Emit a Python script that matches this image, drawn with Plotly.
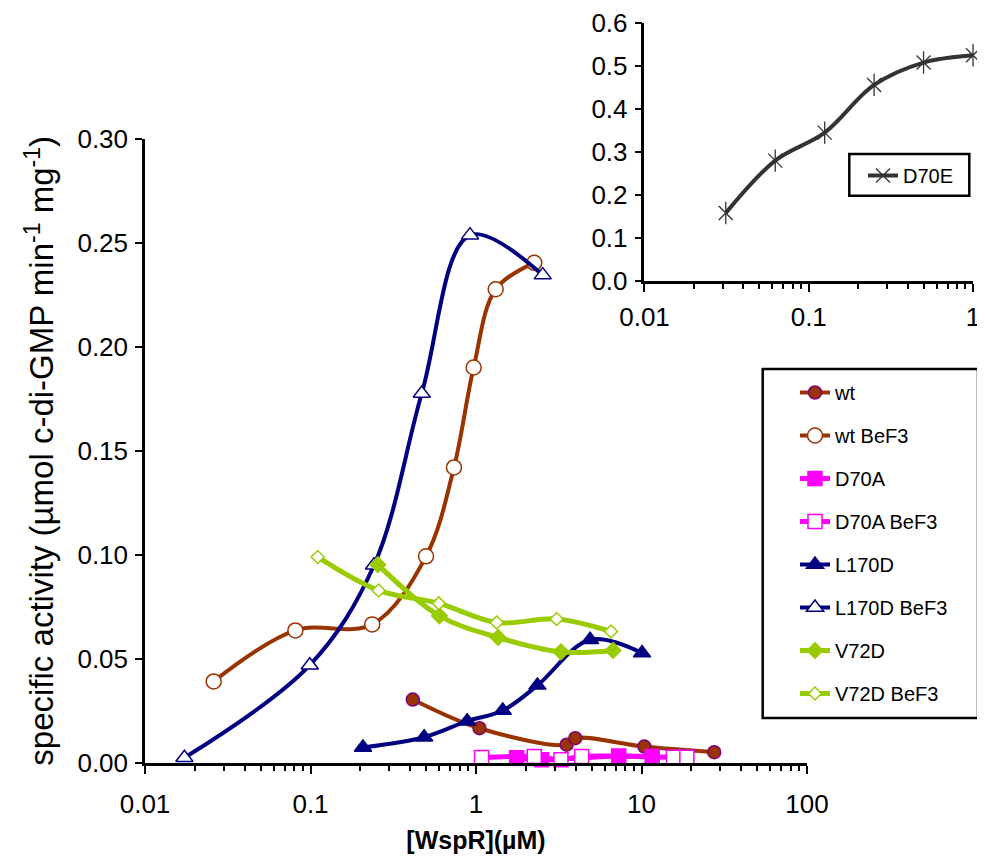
import plotly.graph_objects as go

# ---------------- data (main plot) ----------------
wt_x = [0.415, 1.05, 3.53, 3.98, 10.4, 27.5]
wt_y = [0.0305, 0.0167, 0.0088, 0.0119, 0.0079, 0.0052]

wtb_x = [0.026, 0.081, 0.236, 0.499, 0.736, 0.968, 1.315, 2.25]
wtb_y = [0.0392, 0.0637, 0.0666, 0.0993, 0.142, 0.190, 0.2276, 0.2403]

d70a_x = [1.76, 2.49, 7.28, 11.6]
d70a_y = [0.0025, 0.0016, 0.0034, 0.0031]

d70ab_x = [1.08, 2.25, 3.26, 4.35, 15.6, 18.8]
d70ab_y = [0.0026, 0.0031, 0.0016, 0.0031, 0.0028, 0.0028]

l170d_x = [0.2075, 0.486, 0.885, 1.45, 2.35, 4.89, 10.07]
l170d_y = [0.0075, 0.0124, 0.0201, 0.0252, 0.0373, 0.0592, 0.0528]

l170db_x = [0.0173, 0.099, 0.242, 0.47, 0.92, 2.53]
l170db_y = [0.0025, 0.047, 0.095, 0.1775, 0.2536, 0.2344]

v72d_x = [0.255, 0.601, 1.36, 3.26, 6.73]
v72d_y = [0.0953, 0.0707, 0.0603, 0.0534, 0.0541]

v72db_x = [0.1105, 0.258, 0.596, 1.334, 3.07, 6.54]
v72db_y = [0.099, 0.0829, 0.0767, 0.0675, 0.0692, 0.0632]

# ---------------- data (inset) ----------------
d70e_x = [0.03125, 0.0625, 0.125, 0.25, 0.5, 1.0]
d70e_y = [0.158, 0.280, 0.345, 0.456, 0.508, 0.525]

main_xticks = [0.01, 0.1, 1, 10, 100]
main_xticktext = ["0.01", "0.1", "1", "10", "100"]
main_yticks = [0.0, 0.05, 0.10, 0.15, 0.20, 0.25, 0.30]
main_yticktext = ["0.00", "0.05", "0.10", "0.15", "0.20", "0.25", "0.30"]
inset_xticks = [0.01, 0.1, 1]
inset_xticktext = ["0.01", "0.1", "1"]
inset_yticks = [0.0, 0.1, 0.2, 0.3, 0.4, 0.5, 0.6]
inset_yticktext = ["0.0", "0.1", "0.2", "0.3", "0.4", "0.5", "0.6"]

FONT = "Liberation Sans, Arial, sans-serif"
BROWN = "#993300"
MAGENTA = "#FF00FF"
NAVY = "#000080"
GREEN = "#99CC00"
PURPLE = "#800080"

fig = go.Figure()

def add(name, x, y, color, symbol, size, fill, edge, lw=4, ew=1.5):
    fig.add_trace(go.Scatter(
        x=x, y=y, name=name, mode="lines+markers",
        line=dict(color=color, width=lw, shape="spline", smoothing=1.0),
        marker=dict(symbol=symbol, size=size, color=fill,
                    line=dict(color=edge, width=ew)),
        legendgroup=name, cliponaxis=False,
        xaxis="x", yaxis="y", legend="legend"))

add("wt", wt_x, wt_y, BROWN, "circle", 13, BROWN, PURPLE)
add("wt BeF3", wtb_x, wtb_y, BROWN, "circle", 15, "white", BROWN)
add("D70A", d70a_x, d70a_y, MAGENTA, "square", 14, MAGENTA, MAGENTA, lw=5)
add("D70A BeF3", d70ab_x, d70ab_y, MAGENTA, "square", 14, "white", MAGENTA, lw=5)
add("L170D", l170d_x, l170d_y, NAVY, "triangle-up", 15, NAVY, NAVY)
add("L170D BeF3", l170db_x, l170db_y, NAVY, "triangle-up", 15, "white", NAVY)
add("V72D", v72d_x, v72d_y, GREEN, "diamond", 12, GREEN, GREEN, lw=5)
add("V72D BeF3", v72db_x, v72db_y, GREEN, "diamond", 10, "white", GREEN, lw=5)

# inset
fig.add_trace(go.Scatter(
    x=d70e_x, y=d70e_y, name="D70E", mode="lines+markers",
    line=dict(color="#333333", width=4, shape="spline", smoothing=1.0),
    marker=dict(symbol="x-thin-open", size=14, color="#333333",
                line=dict(color="#333333", width=1.3)),
    cliponaxis=False, xaxis="x2", yaxis="y2", legend="legend2"))
fig.add_trace(go.Scatter(
    x=d70e_x, y=d70e_y, name="D70E", mode="markers", showlegend=False,
    marker=dict(symbol="line-ns-open", size=16, color="#333333",
                line=dict(color="#333333", width=1.3)),
    cliponaxis=False, xaxis="x2", yaxis="y2"))

axis_common = dict(showline=True, linecolor="black", linewidth=2.5,
                   ticks="outside", tickcolor="black", tickwidth=2,
                   showgrid=False, zeroline=False, automargin=False,
                   ticklabeloverflow="allow",
                   tickfont=dict(family=FONT, size=26, color="black"))

# page has an 8 px body margin; plot area in screen pixels:
W, H, L, B = 830.0, 743.0, 145.0, 763.0
def px(x):
    return (x - L) / W
def py(y):
    return (B - y) / H

fig.update_layout(
    width=977, height=853,
    margin=dict(l=137, r=10, t=12, b=98),
    paper_bgcolor="white", plot_bgcolor="rgba(0,0,0,0)",
    font=dict(family=FONT, color="black"),
    xaxis=dict(domain=[0, 0.7976], type="log", range=[-2, 2], anchor="y",
               tickvals=main_xticks, ticktext=main_xticktext, ticklen=8,
               ticklabelstandoff=8,
               minor=dict(ticks="outside", ticklen=5, tickwidth=2,
                          tickcolor="black", dtick="D1", showgrid=False),
               title=dict(text="<b>[WspR](µM)</b>",
                          font=dict(family=FONT, size=25), standoff=14),
               **axis_common),
    yaxis=dict(domain=[0, 0.8404], range=[0, 0.30],
               tickvals=main_yticks, ticktext=main_yticktext,
               ticklen=7, anchor="x", ticklabelstandoff=2,
               title=dict(text="specific activity (µmol c-di-GMP min<sup>-1</sup> mg<sup>-1</sup>)",
                          font=dict(family=FONT, size=33), standoff=14),
               **axis_common),
    xaxis2=dict(domain=[0.6018, 0.9976], type="log", range=[-2, 0], anchor="y2",
                tickvals=inset_xticks, ticktext=inset_xticktext, ticklen=8,
                ticklabelstandoff=3,
                minor=dict(ticks="outside", ticklen=5, tickwidth=2,
                           tickcolor="black", dtick="D1", showgrid=False),
                **axis_common),
    yaxis2=dict(domain=[py(281), py(23)], range=[0, 0.6],
                tickvals=inset_yticks, ticktext=inset_yticktext,
                ticklen=7, anchor="x2", ticklabelstandoff=2,
                **axis_common),
    legend=dict(x=px(795), y=py(373), xanchor="left", yanchor="top",
                borderwidth=0, bgcolor="rgba(0,0,0,0)",
                font=dict(family=FONT, size=20, color="black"),
                tracegroupgap=14, traceorder="grouped"),
    legend2=dict(x=px(863), y=py(156), xanchor="left", yanchor="top",
                 borderwidth=0, bgcolor="rgba(0,0,0,0)",
                 font=dict(family=FONT, size=20, color="black")),
    shapes=[
        dict(type="rect", xref="paper", yref="paper",
             x0=px(762.7), x1=px(978), y0=py(718), y1=py(369),
             line=dict(color="black", width=2.5)),
        dict(type="rect", xref="paper", yref="paper",
             x0=px(849.3), x1=px(969.3), y0=py(195.7), y1=py(154),
             line=dict(color="black", width=2.5)),
    ],
)

fig.write_html("out.html")
